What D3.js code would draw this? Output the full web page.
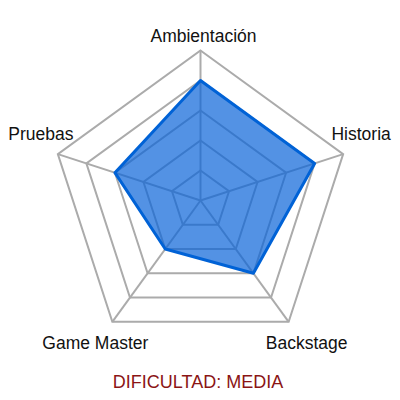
<!DOCTYPE html>
<html>
<head>
<meta charset="utf-8">
<script src="https://cdn.jsdelivr.net/npm/d3@7"></script>
<style>
  html, body { margin: 0; padding: 0; background: #fff; }
  svg { display: block; font-family: "Liberation Sans", Arial, sans-serif; }
</style>
</head>
<body>
<svg id="chart" width="400" height="400"></svg>
<script>
// ===== radar chart: game difficulty profile =====

var axes = ["Ambientación", "Historia", "Backstage", "Game Master", "Pruebas"];
var values = [4, 4, 3, 2, 3];
var levels = [1, 2, 3, 4, 5];
var maxValue = 5;
var caption = "DIFICULTAD: MEDIA";

var width = 400, height = 400;
var cx = 200.5, cy = 200.5, radius = 150;

var svg = d3.select("#chart");

var rScale = d3.scaleLinear().domain([0, maxValue]).range([0, radius]);
var angle = d3.scaleLinear().domain([0, axes.length]).range([0, 2 * Math.PI]);

function point(i, v) {
  var a = angle(i);
  return [cx + rScale(v) * Math.sin(a), cy - rScale(v) * Math.cos(a)];
}

var g = svg.append("g");

// Grid rings
g.selectAll(".ring")
  .data(levels)
  .join("polygon")
  .attr("class", "ring")
  .attr("points", function(l) {
    return axes.map(function(d, i) { return point(i, l).join(","); }).join(" ");
  })
  .attr("fill", "none")
  .attr("stroke", "#ababab")
  .attr("stroke-width", 2);

// Spokes
g.selectAll(".spoke")
  .data(axes)
  .join("line")
  .attr("class", "spoke")
  .attr("x1", cx).attr("y1", cy)
  .attr("x2", function(d, i) { return point(i, maxValue)[0]; })
  .attr("y2", function(d, i) { return point(i, maxValue)[1]; })
  .attr("stroke", "#ababab")
  .attr("stroke-width", 2);

// Data polygon
var line = d3.line().curve(d3.curveLinearClosed);
g.append("path")
  .datum(values.map(function(v, i) { return point(i, v); }))
  .attr("d", line)
  .attr("fill", "#0a64d8")
  .attr("fill-opacity", 0.7)
  .attr("stroke", "#0062d6")
  .attr("stroke-width", 3)
  .attr("stroke-linejoin", "round");

// Axis labels
g.selectAll(".axis-label")
  .data(axes)
  .join("text")
  .attr("class", "axis-label")
  .attr("text-anchor", "middle")
  .attr("font-size", 17.5)
  .attr("fill", "#111")
  .attr("x", function(d, i) {
    var p = point(i, maxValue);
    var s = Math.sin(angle(i));
    return p[0] + (Math.abs(s) < 0.1 ? 3 : (s > 0 ? 18 : -17));
  })
  .attr("y", function(d, i) {
    var p = point(i, maxValue);
    var c = Math.cos(angle(i));
    if (c > 0.9) return p[1] - 9;
    return p[1] + (c > 0 ? -14 : 27);
  })
  .text(function(d) { return d; });

// Caption
svg.append("text")
  .attr("x", width / 2 - 2).attr("y", 388)
  .attr("text-anchor", "middle")
  .attr("font-size", 18)
  .attr("fill", "#8b1515")
  .text(caption);
</script>
</body>
</html>
